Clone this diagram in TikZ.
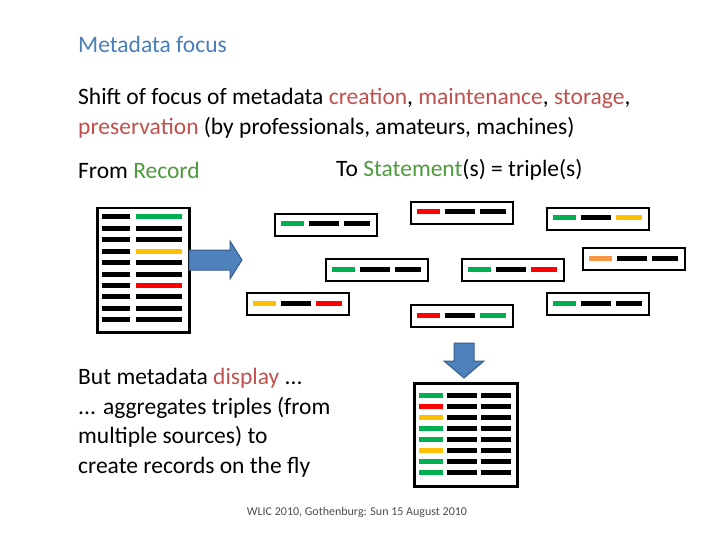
\documentclass[tikz,border=0pt]{standalone}
\usepackage{fontspec}
\setmainfont{Carlito}
\begin{document}
\definecolor{ttl}{HTML}{4A7EBB}
\definecolor{rd}{HTML}{C0504D}
\definecolor{gn}{HTML}{4E9A3E}
\definecolor{bg}{HTML}{00B050}
\definecolor{br}{HTML}{FF0000}
\definecolor{by}{HTML}{FFC000}
\definecolor{bo}{HTML}{F79646}
\definecolor{ab}{HTML}{4F81BD}
\definecolor{abd}{HTML}{385D8A}
\begin{tikzpicture}[x=1pt,y=-1pt,
  txt/.style={anchor=west,inner sep=0pt,font=\fontsize{23.5}{29.5}\selectfont,align=left},
  box/.style={draw=black,line width=2.5pt,fill=white},
  bar/.style={line width=5pt},
  arr/.style={fill=ab,draw=abd,line width=1pt}]
\useasboundingbox (0,0) rectangle (720,540);
\node[txt,text=ttl] (title) at (78,44) {Metadata focus};
\node[txt,anchor=north west] (shift) at (78,88) {Shift of focus of metadata \textcolor{rd}{creation}, \textcolor{rd}{maintenance}, \textcolor{rd}{storage},\\\textcolor{rd}{preservation} (by professionals, amateurs, machines)};
\node[txt] (from) at (78,170) {From \textcolor{gn}{Record}};
\node[txt] (to) at (336,170) {To \textcolor{gn}{Statement}(s) = triple(s)};
\node[txt,anchor=north west] (but) at (78,368) {But metadata \textcolor{rd}{display} ...\\... aggregates triples (from\\multiple sources) to\\create records on the fly};
\node[anchor=center,inner sep=0pt,font=\fontsize{12}{14}\selectfont,text=black!70] (foot) at (357,512) {WLIC 2010, Gothenburg: Sun 15 August 2010};
% record
\node[box,minimum width=92pt,minimum height=124pt,anchor=north west,inner sep=0pt] (rec) at (96,207) {};
\foreach \i/\c in {0/bg,1/black,2/black,3/by,4/black,5/black,6/br,7/black,8/black,9/black}{
  \draw[bar,black] (102,217+11.4*\i) -- (130,217+11.4*\i);
  \draw[bar,\c] (136,217+11.4*\i) -- (182,217+11.4*\i);
}
% right arrow
\draw[arr] (189,250) -- (230,250) -- (230,241) -- (242,260) -- (230,279) -- (230,270) -- (189,270) -- cycle;
% triples
\foreach \x/\y/\a/\b/\c [count=\n] in {274/213/bg/black/black,410/201/br/black/black,546/207/bg/black/by,325/258/bg/black/black,461/258/bg/black/br,582/247/bo/black/black,246/292/by/black/br,410/304/br/black/bg,546/292/bg/black/black}{
  \node[box,line width=2pt,minimum width=102pt,minimum height=22pt,anchor=north west,inner sep=0pt] (t\n) at (\x,\y) {};
  \draw[bar,\a] (\x+7,\y+11) -- (\x+30,\y+11);
  \draw[bar,\b] (\x+35,\y+11) -- (\x+65,\y+11);
  \draw[bar,\c] (\x+70,\y+11) -- (\x+96,\y+11);
}
% down arrow
\draw[arr] (454,343) -- (474,343) -- (474,361) -- (484,361) -- (464,378) -- (444,361) -- (454,361) -- cycle;
% aggregated record
\node[box,minimum width=103pt,minimum height=103pt,anchor=north west,inner sep=0pt] (agg) at (413,382) {};
\foreach \i/\c in {0/bg,1/br,2/by,3/bg,4/bg,5/by,6/bg,7/bg}{
  \draw[bar,\c] (419,395+11.1*\i) -- (443,395+11.1*\i);
  \draw[bar,black] (447,395+11.1*\i) -- (477,395+11.1*\i);
  \draw[bar,black] (481,395+11.1*\i) -- (511,395+11.1*\i);
}
\end{tikzpicture}
\end{document}
